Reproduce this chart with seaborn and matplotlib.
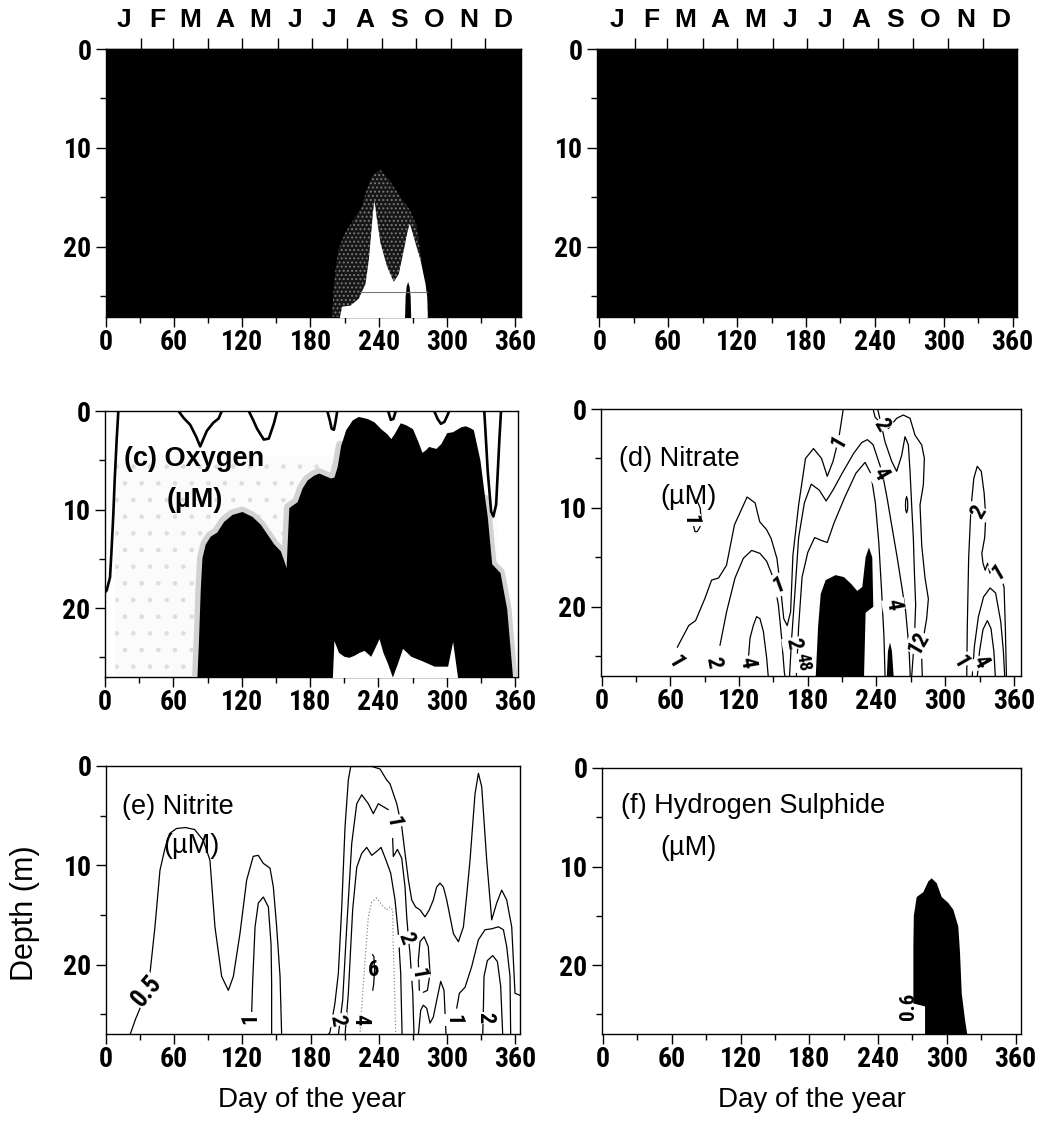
import numpy as np
import matplotlib
matplotlib.use("Agg")
import matplotlib.pyplot as plt
from matplotlib import font_manager
from matplotlib.font_manager import FontProperties
import seaborn as sns

# ---------------------------------------------------------------- data
month_letters = ["J", "F", "M", "A", "M", "J", "J", "A", "S", "O", "N", "D"]
month_mid_days = [15.5, 45, 74.5, 105, 135.5, 166, 196.5, 227.5, 258, 288.5, 319, 349.5]
month_start_days = [31, 59, 90, 120, 151, 181, 212, 243, 273, 304, 334]
day_ticks = [0, 60, 120, 180, 240, 300, 360]
day_minor_ticks = [30, 90, 150, 210, 270, 330]
depth_ticks = [0, 10, 20]
depth_minor_ticks = [5, 15, 25]

# (a) -- low-value pocket inside black field
a_halo_day = [198.7, 200.1, 201.6, 204.5, 210.4, 217.7, 225.1, 229.5, 233.9, 241.2, 248.5,
              258.8, 267.6, 273.5, 276.4, 279.3, 282.3, 283.7]
a_halo_top = [27.1, 24.7, 22.7, 20.3, 18.6, 17.3, 15.9, 14.2, 12.9, 12.2, 13.1,
              14.9, 16.3, 17.9, 20.3, 22.7, 25.0, 27.1]
a_white_day = [205.4, 207.5, 214.8, 222.1, 228.0, 230.9, 233.0, 234.7, 235.9, 237.7, 241.2,
               247.1, 252.9, 257.3, 261.7, 265.2, 267.0, 270.5, 276.4, 280.8, 282.3, 282.8]
a_white_top = [27.1, 26.0, 25.9, 25.2, 23.7, 21.3, 18.6, 16.3, 15.3, 16.9, 19.6,
               22.0, 23.5, 22.7, 20.3, 18.3, 17.6, 19.0, 21.3, 23.7, 25.0, 27.1]
a_core_day = [262.8, 263.3, 264.2, 265.5, 266.8, 267.7, 268.2]
a_core_top = [27.1, 25.0, 24.0, 23.5, 24.0, 25.0, 27.1]
a_rule_day = [223.5, 282.8]
a_rule_depth = [24.6, 24.6]

# (c) Oxygen
c_black_day = [80.7, 82.2, 83.6, 85.1, 88.0, 92.4, 98, 104.2, 111.5, 120.3, 129.1, 136.4, 142.3,
               148.2, 154.0, 157.0, 159.0, 160.5, 161.4, 168.7, 173.1, 177.5, 183.4, 187.8, 193.7,
               198.1, 201.0, 203.9, 206.9, 211.3, 217.1, 222.4, 230.4, 236.2, 242.1, 247.4, 250.9,
               253.9, 259.2, 264.1, 270.0, 274.4, 278.3, 281.7, 284.1, 290.5, 294.9, 300.0, 305.2,
               312.5, 316.4, 320.5, 323.4, 329.2, 333.6, 335.6, 339.5, 346.8, 352.7, 357.9]
c_black_top = [27.1, 22.9, 18.2, 14.9, 13.5, 12.7, 12.3, 11.2, 10.5, 10.2, 10.7, 11.5, 12.5,
               13.5, 14.2, 15.2, 15.9, 12.0, 9.8, 9.2, 7.8, 7.0, 6.5, 6.3, 6.6,
               6.8, 6.7, 5.6, 3.5, 1.9, 0.9, 0.55, 0.77, 1.1, 1.8, 2.3, 2.8,
               2.3, 1.2, 1.4, 1.8, 3.0, 4.2, 3.9, 3.6, 3.8, 3.3, 2.2, 2.1,
               1.6, 1.5, 1.7, 1.9, 5.0, 9.0, 10.7, 15.5, 16.4, 20.1, 27.1]
c_notch_day = [199.6, 201.0, 205, 209.8, 214, 218.6, 223, 227.4, 233.3, 237, 240.6, 244, 248.0,
               252.3, 256.8, 261.2, 265, 268.5, 277.3, 289.0, 300.8, 305.2, 309.6]
c_notch_top = [27.1, 23.3, 24.5, 24.9, 25.0, 24.8, 24.5, 24.3, 24.9, 24.0, 23.1, 24.5, 25.6,
               27.0, 25.6, 24.1, 24.5, 24.9, 25.3, 25.9, 25.9, 23.4, 27.1]
c_haze_day = [9, 60, 150, 250, 345]
c_haze_top = [5.0, 4.5, 4.5, 4.5, 9.0]
c_line1_day = [11.7, 10.3, 8.5, 7.3, 5.8, 4.4, 1.5, 0.0]
c_line1_depth = [0, 2.8, 7.0, 10.5, 14.0, 16.9, 18.2, 18.4]
c_line2_day = [64.5, 69, 74.8, 80, 83.6, 86.5, 89.5, 95, 99.7, 102.6]
c_line2_depth = [0, 0.7, 1.4, 2.6, 3.6, 2.8, 2.0, 1.2, 0.77, 0]
c_line3_day = [126.2, 130, 133.5, 139.4, 143.8, 148.2, 151.1]
c_line3_depth = [0, 0.9, 1.8, 2.9, 2.8, 1.3, 0]
c_line4_day = [195.2, 197.5, 199.0, 201.0, 202.4, 203.9]
c_line4_depth = [0, 1.0, 1.8, 1.9, 1.1, 0]
c_line5_day = [248.6, 250.9, 253.2, 255.3]
c_line5_depth = [0, 0.9, 0.8, 0]
c_line6_day = [289.0, 292, 294.9, 298, 300.8, 302.2]
c_line6_depth = [0, 0.8, 1.3, 1.1, 0.4, 0]
c_line7_day = [333.0, 334.5, 336.0, 339.0, 341.0, 343.4, 346.3, 347.7]
c_line7_depth = [0, 3.0, 6.1, 10.2, 10.7, 9.5, 2.8, 0]

# (d) Nitrate
d_black_day = [186.9, 189.0, 191.3, 195.6, 204.3, 211.6, 218, 223.2, 227.6, 230.5, 233.4, 236.3,
               237.2, 230.5, 229.1]
d_black_depth = [27.1, 22.0, 18.7, 17.3, 16.8, 17.0, 17.7, 18.4, 18.0, 15.0, 14.0, 15.0,
                 20.0, 20.6, 27.1]
d_spike_day = [249.0, 250.0, 251.8, 253.5, 255.0]
d_spike_depth = [27.1, 24.5, 23.6, 24.5, 27.1]
d_lev1_day = [66, 76, 82, 90, 96, 102, 109, 116, 127, 134, 138, 144, 148, 153, 156, 159, 162,
              165, 167, 172, 178, 185, 192, 197, 202, 207, 211]
d_lev1_depth = [24.1, 21.9, 21.4, 19.2, 17.3, 17.1, 15.8, 11.7, 8.9, 9.5, 11.4, 12.2, 13.1, 15.1,
                17.8, 21.2, 21.9, 20.5, 14.8, 9.7, 5.0, 4.0, 5.0, 6.8, 5.3, 3.0, 0.0]
d_lev2_day = [103.3, 109.1, 116.4, 123.7, 131, 138.2, 144.1, 149.9, 154.3, 157.2, 159.5, 160.2]
d_lev2_depth = [23.9, 20.5, 17.1, 15.1, 14.3, 14.6, 15.4, 17.1, 19.8, 23.2, 26.6, 27.1]
d_lev4_day = [128.3, 129.5, 132.4, 135.3, 138.2, 141.2, 144.1, 145.5]
d_lev4_depth = [25.0, 23.2, 21.9, 21.0, 21.2, 22.5, 25.2, 27.1]
d_mid2_day = [164, 165.9, 168.8, 172, 177, 183, 190, 196, 202, 210, 220, 227, 232, 237, 241,
              245, 249.4, 252.3, 258.2, 265.5, 268.4, 269.5]
d_mid2_depth = [27.1, 23.2, 18.5, 13, 9.5, 7.6, 8.2, 9.3, 8.2, 6.5, 4.5, 3.4, 3.1, 3.6, 5.0,
                6.4, 9.1, 11.1, 15.1, 20.5, 24.2, 27.1]
d_mid4_day = [170, 172, 175, 180, 186, 192, 197, 203, 212, 222, 230, 235, 239, 242, 244.5, 246.5, 247.5]
d_mid4_depth = [27.1, 22, 17, 14.5, 13.0, 13.3, 13.5, 11.5, 9.0, 6.5, 5.4, 6.5, 9.5, 13.5, 18.5, 23.0, 27.1]
d_r1_day = [237.0, 238.7, 244, 250.4, 257.6, 263.4, 269.3, 273.6, 279.5, 281.8, 280.9, 278.0,
            279.5, 282.4, 285.3, 283.8, 280.9, 279.5, 280.0]
d_r1_depth = [0.0, 0.8, 1.5, 1.96, 0.94, 0.61, 0.94, 2.63, 3.64, 4.99, 7.69, 9.7,
              13.8, 17.1, 19.2, 21.2, 23.2, 25.2, 27.1]
d_r2_day = [241, 244, 247.4, 253.3, 257.6, 262, 264.9, 267.8, 269.3, 270.7, 272.2, 273.1, 274.2,
            273.1, 270.7]
d_r2_depth = [0, 1.5, 3.3, 5.3, 6.3, 4.7, 2.8, 3.6, 6.3, 9.7, 13.1, 16.5, 19.8, 23.2, 27.1]
d_ring_day = [266.3, 267.1, 267.3, 267.1, 266.3, 265.5, 265.3, 265.5, 266.3]
d_ring_depth = [8.9, 9.2, 9.7, 10.2, 10.5, 10.2, 9.7, 9.2, 8.9]
d_hook_day = [83.0, 86.0, 86.7, 85.9, 83.5, 81.5, 80.0]
d_hook_depth = [9.2, 10.0, 10.9, 11.9, 12.4, 12.4, 11.7]
d_east1_day = [318.8, 319.3, 320.5, 322.5, 325, 328, 331.5, 334, 335.4, 334.5, 332, 333, 334.9,
               337, 339, 340.7, 343]
d_east1_depth = [27.1, 22, 15, 10, 7, 5.8, 6.3, 8.5, 10.9, 13, 14.6, 15.6, 16.3, 15.6, 16.6,
                 16.0, 16.6]
d_east1b_day = [348.5, 351.4, 352.5, 353.5]
d_east1b_depth = [17.0, 18.0, 22.0, 27.1]
d_east2_day = [323.6, 325.5, 329, 333.5, 339.2, 344, 348.5, 350.8, 352]
d_east2_depth = [27.1, 24, 21, 19, 18.1, 18.6, 21.5, 24.5, 27.1]
d_east4_day = [328, 330, 333, 336.8, 340, 342.5, 343.8]
d_east4_depth = [27.1, 24.5, 22.3, 21.4, 22.2, 24.5, 27.1]

# (e) Nitrite
e_a05_day = [21.1, 26, 32.9, 38.7, 43.1, 47.5, 51.9, 56, 62, 70, 78, 85.7, 91.5, 95.9, 101.8,
             107.7, 112.1, 117.9, 123.8, 129.6, 134, 138.4, 144.4, 147.3, 150.2, 153.2, 154.6]
e_a05_depth = [27.1, 25.5, 23.6, 20.9, 16.2, 10.5, 8.3, 6.8, 6.3, 6.2, 6.4, 7.5, 9.5, 16.2, 21.2,
               22.6, 21.2, 16.9, 11.5, 9.1, 9.0, 9.8, 10.3, 12.2, 16.2, 21.2, 27.1]
e_a1_day = [128.2, 129, 131.2, 134.1, 138.5, 142.9, 145.3, 145.8, 145.8]
e_a1_depth = [25.0, 22, 16.2, 13.8, 13.2, 14.2, 18, 22, 27.1]
e_b05_day = [195.5, 197.2, 201.5, 204.5, 207.4, 210.4, 213.3, 215.4, 225, 234, 241.2, 247, 250,
             255.9, 260.3, 263.2, 266.2, 269.1, 272.5, 276.4, 280.8, 284.5, 288.1, 291, 294, 297,
             299.9, 305.8, 310.2, 314.6, 317.5, 320.4, 324.8, 327.8, 330.7, 335.1, 339.5, 343.9,
             348.3, 352.7, 357.1, 360, 364.4]
e_b05_depth = [27.1, 26.8, 23.9, 20.9, 14.5, 6.1, 1.4, 0.05, 0.05, 0.05, 0.3, 1.4, 1.8,
               3.8, 6.1, 8.8, 11.5, 13.5, 14.2, 14.5, 15.2, 14.5, 13.5, 12.2, 11.8, 12.2,
               13.5, 16.9, 17.7, 16.2, 13.0, 9.5, 2.8, 0.74, 2.1, 9.5, 15.5, 13.8,
               12.5, 13.5, 16.2, 22.9, 23.1]
e_b1_day = [204.5, 208.3, 211.9, 216.3, 220.7, 225.1, 230.9, 235.3, 239.7, 244.1, 248.5]
e_b1_depth = [27.1, 23.6, 16.2, 7.8, 3.8, 2.9, 3.8, 4.8, 3.8, 4.1, 4.4]
e_b2_day = [210.4, 213.3, 217.1, 220.7, 225.1, 229.5, 233.9, 238.3, 242.1, 246.5, 250.6, 254.4,
            257.3, 259.4, 260.6]
e_b2_depth = [27.1, 22.9, 14.5, 10.2, 8.8, 8.2, 9.0, 8.6, 8.2, 9.5, 10.8, 13.5, 16.9, 20.9, 27.1]
e_b2b_day = [252.3, 252.9, 253.5, 256.5, 260.3, 263.2, 264.7, 266.1, 267.6, 270.0, 271.1]
e_b2b_depth = [7.3, 9.1, 9.0, 8.4, 9.3, 12.2, 15.2, 17.2, 18.9, 22.9, 27.1]
e_b4_day = [223.6, 225.1, 228.0, 230.9, 233.9, 238.3, 242.7, 247.1, 250.0, 252.3, 252.9, 254.1, 255.0]
e_b4_depth = [27.1, 24.3, 19.6, 15.2, 13.7, 13.3, 14.0, 14.5, 14.2, 14.5, 18.2, 22.9, 27.1]
e_b6_day = [234.5, 235.8, 236.4, 235.6, 234.8]
e_b6_depth = [19.0, 19.2, 20.5, 22.0, 22.6]
e_loop_day = [275.8, 274.9, 276.4, 280.0, 283.7, 285.2, 282.9, 279.3]
e_loop_depth = [22.6, 19.6, 17.7, 17.2, 18.2, 20.9, 22.6, 22.8]
e_wig_day = [274.9, 277.0, 279.3, 282.3, 285.2, 288.1, 291.1, 294.6, 297.5, 299.3]
e_wig_depth = [27.1, 24.6, 24.1, 24.4, 25.9, 25.3, 23.6, 21.7, 22.6, 27.1]
e_c1_day = [308.7, 311.0, 316.0, 321.9, 327.8, 333.6, 339.5, 345.4, 349.8, 352.7, 355.6, 356.2]
e_c1_depth = [24.4, 22.9, 22.3, 20.2, 17.5, 16.5, 16.4, 16.2, 16.5, 18.2, 21.2, 27.1]
e_c2_day = [331.6, 332.2, 332.7, 335.7, 340.4, 344.5, 347.4, 349.2]
e_c2_depth = [27.1, 24.3, 21.2, 19.6, 19.1, 19.7, 22.2, 27.1]

# (f) Hydrogen sulphide
f_black_day = [281.0, 281.0, 270.8, 270.8, 271.2, 273.7, 279.5, 283.9, 286.8, 291.2, 295.5,
               301.3, 305.7, 310.0, 311.5, 313.0, 315.9, 317.9]
f_black_depth = [27.1, 24.2, 23.9, 18.0, 15.0, 13.1, 12.6, 11.5, 11.2, 11.7, 13.1,
                 13.7, 14.4, 16.1, 18.8, 22.9, 25.6, 27.1]

# ---------------------------------------------------------------- style
sns.set_theme(style="ticks")
plt.rcParams["font.family"] = ["Liberation Sans", "DejaVu Sans"]
plt.rcParams["text.color"] = "black"
plt.rcParams["axes.labelcolor"] = "black"
plt.rcParams["hatch.linewidth"] = 0.9

# a narrow face for tick numbers if one is installed
narrow_file = None
for key in ["LiberationSansNarrow-Bold", "LiberationSansNarrow-Regular", "RobotoCondensed-Bold",
            "RobotoCondensed-Regular"]:
    for fe in font_manager.fontManager.ttflist:
        if key.lower() in fe.fname.replace(" ", "").lower():
            narrow_file = fe.fname
            break
    if narrow_file:
        break


def tick_font(size_narrow, size_plain):
    if narrow_file:
        return FontProperties(fname=narrow_file, size=size_narrow)
    return FontProperties(family=["Liberation Sans", "DejaVu Sans"], weight="bold", size=size_plain)


W, H = 1048, 1124
fig = plt.figure(figsize=(W / 100, H / 100), dpi=100)
fig.patch.set_facecolor("white")


def rect(l, t, r, b):
    return [l / W, 1 - b / H, (r - l) / W, (b - t) / H]


def line(ax, days, depths, lw=0.9, color="black", ls="-"):
    sns.lineplot(x=np.asarray(days, float), y=np.asarray(depths, float), sort=False,
                 estimator=None, ax=ax, color=color, lw=lw, linestyle=ls, legend=False,
                 solid_joinstyle="round", zorder=4)


def clab(ax, txt, day, depth, rot=0, size=15, box=True):
    kw = dict(rotation=rot, ha="center", va="center", zorder=6,
              fontproperties=tick_font(size + 1, size))
    if box:
        kw["bbox"] = dict(boxstyle="square,pad=0.02", fc="white", ec="none")
    ax.text(day, depth, txt, **kw)


def style(ax, xlim, ybot=27.0, months=False):
    ax.set_xlim(*xlim)
    ax.set_ylim(ybot, 0)
    ax.set_xticks(day_ticks)
    ax.set_xticks(day_minor_ticks, minor=True)
    ax.set_yticks(depth_ticks)
    ax.set_yticks(depth_minor_ticks, minor=True)
    ax.set_xlabel("")
    ax.set_ylabel("")
    ax.tick_params(axis="x", which="major", direction="out", length=7, width=1, pad=1.5,
                   color="black", labelcolor="black")
    ax.tick_params(axis="x", which="minor", direction="out", length=4.5, width=1, color="black")
    ax.tick_params(axis="y", which="major", direction="out", length=7, width=1, pad=3.5,
                   color="black", labelcolor="black")
    ax.tick_params(axis="y", which="minor", direction="out", length=4, width=1, color="black")
    for lab in ax.get_xticklabels() + ax.get_yticklabels():
        lab.set_fontproperties(tick_font(20, 17.5))
    for sp in ax.spines.values():
        sp.set_visible(True)
        sp.set_color("black")
        sp.set_linewidth(1.0)
    if months:
        sec = ax.secondary_xaxis("top")
        sec.set_xticks(month_start_days, labels=[""] * len(month_start_days))
        sec.set_xticks(month_mid_days, labels=month_letters, minor=True)
        sec.tick_params(which="major", direction="out", length=8, width=1, color="black")
        sec.tick_params(which="minor", length=0, pad=12, labelsize=19, labelcolor="black")
        for lab in sec.get_xticklabels(minor=True):
            lab.set_fontweight("bold")
        sec.spines["top"].set_linewidth(1.0)


def panel_title(ax, line1, day1, dep1, day2, dep2, bold=False):
    w = "bold" if bold else "normal"
    ax.text(day1, dep1, line1, fontsize=19.5, fontweight=w, va="baseline", ha="left", zorder=7,
            color="black")
    ax.text(day2, dep2, "(\u00b5M)", fontsize=19.5, fontweight=w, va="baseline", ha="left",
            zorder=7, color="black")


ax_a = fig.add_axes(rect(106, 49, 521, 317))
ax_b = fig.add_axes(rect(597, 49, 1017, 317))
ax_c = fig.add_axes(rect(105, 411, 518, 677))
ax_d = fig.add_axes(rect(601, 409, 1021, 676))
ax_e = fig.add_axes(rect(106, 766, 520, 1034))
ax_f = fig.add_axes(rect(602, 768, 1021, 1034))

# ---------------- (a)
ax_a.set_facecolor("black")
ax_a.fill_between(a_halo_day, a_halo_top, 27.2, facecolor="#161616", edgecolor="#7a7a7a",
                  hatch="....", linewidth=0, zorder=2)
ax_a.fill_between(a_white_day, a_white_top, 27.2, color="white", linewidth=0, zorder=3)
ax_a.fill_between(a_core_day, a_core_top, 27.2, color="black", linewidth=0, zorder=4)
line(ax_a, a_rule_day, a_rule_depth, lw=0.8, color="#777777")
style(ax_a, (0, 365.3), ybot=27.1, months=True)

# ---------------- (b)
ax_b.set_facecolor("black")
style(ax_b, (-2, 363.8), ybot=27.1, months=True)

# ---------------- (c)
ax_c.fill_between(c_haze_day, c_haze_top, 27.2, facecolor="#fbfbfb", edgecolor="#dedede",
                  hatch=".", linewidth=0, zorder=1)
cb_day = np.asarray(c_black_day)
cb_top = np.asarray(c_black_top)
left = cb_day <= 207
right = cb_day >= 330
line(ax_c, cb_day[left], cb_top[left], lw=7, color="#d2d2d2")
line(ax_c, cb_day[right], cb_top[right], lw=7, color="#d2d2d2")
ax_c.fill_between(c_black_day, c_black_top, 27.2, color="black", linewidth=0, zorder=4.5)
ax_c.fill_between(c_notch_day, c_notch_top, 27.2, color="white", linewidth=0, zorder=4.6)
for dd, zz in [(c_line1_day, c_line1_depth), (c_line2_day, c_line2_depth),
               (c_line3_day, c_line3_depth), (c_line4_day, c_line4_depth),
               (c_line5_day, c_line5_depth), (c_line6_day, c_line6_depth),
               (c_line7_day, c_line7_depth)]:
    line(ax_c, dd, zz, lw=1.9)
panel_title(ax_c, "(c) Oxygen", 16.7, 5.6, 54, 9.7, bold=True)
style(ax_c, (0, 362.6))

# ---------------- (d)
ax_d.fill(d_black_day, d_black_depth, color="black", linewidth=0, zorder=3)
ax_d.fill(d_spike_day, d_spike_depth, color="black", linewidth=0, zorder=3)
for dd, zz in [(d_lev1_day, d_lev1_depth), (d_lev2_day, d_lev2_depth), (d_lev4_day, d_lev4_depth),
               (d_mid2_day, d_mid2_depth), (d_mid4_day, d_mid4_depth), (d_r1_day, d_r1_depth),
               (d_r2_day, d_r2_depth), (d_ring_day, d_ring_depth), (d_hook_day, d_hook_depth),
               (d_east1_day, d_east1_depth), (d_east1b_day, d_east1b_depth),
               (d_east2_day, d_east2_depth), (d_east4_day, d_east4_depth)]:
    line(ax_d, dd, zz, lw=0.9)
clab(ax_d, "1", 64, 25.6, rot=-60)
clab(ax_d, "2", 97.5, 25.6, rot=-80)
clab(ax_d, "4", 126.6, 25.6, rot=-80)
clab(ax_d, "1", 154.3, 17.8, rot=20)
clab(ax_d, "2", 167.4, 23.7, rot=-80)
clab(ax_d, "48", 176, 25.6, rot=-80, size=12)
clab(ax_d, "1", 206.7, 3.3, rot=60)
clab(ax_d, "2", 244.5, 1.6, rot=-60)
clab(ax_d, "4", 243.5, 6.6, rot=-60)
clab(ax_d, "4", 254.7, 19.8, rot=-80)
clab(ax_d, "12", 276.5, 23.7, rot=60)
clab(ax_d, "2", 329, 10.4, rot=60)
clab(ax_d, "1", 346.4, 16.6, rot=30)
clab(ax_d, "1", 77.1, 11.2, rot=-90)
clab(ax_d, "1", 313.3, 25.6, rot=-60)
clab(ax_d, "4", 330.8, 25.6, rot=-60)
panel_title(ax_d, "(d) Nitrate", 15.1, 5.8, 51.5, 9.6)
style(ax_d, (-0.6, 366.2))

# ---------------- (e)
for dd, zz in [(e_a05_day, e_a05_depth), (e_a1_day, e_a1_depth), (e_b05_day, e_b05_depth),
               (e_b1_day, e_b1_depth), (e_b2_day, e_b2_depth), (e_b2b_day, e_b2b_depth),
               (e_loop_day, e_loop_depth), (e_wig_day, e_wig_depth), (e_c1_day, e_c1_depth),
               (e_c2_day, e_c2_depth)]:
    line(ax_e, dd, zz, lw=0.9)
line(ax_e, e_b4_day, e_b4_depth, lw=0.9, color="#8c8c8c", ls=":")
line(ax_e, e_b6_day, e_b6_depth, lw=0.9, color="black")
clab(ax_e, "0.5", 35.8, 22.7, rot=50, size=17)
clab(ax_e, "1", 126.8, 25.4, rot=90)
clab(ax_e, "2", 203.1, 25.6, rot=-80)
clab(ax_e, "4", 223.6, 25.6, rot=-90)
clab(ax_e, "1", 252.9, 5.6, rot=-80)
clab(ax_e, "2", 263.6, 17.4, rot=-70)
clab(ax_e, "6", 235.3, 20.6, rot=0, box=False)
clab(ax_e, "1", 275.0, 20.9, rot=-80)
clab(ax_e, "1", 305.8, 25.6, rot=-90)
clab(ax_e, "2", 333.6, 25.4, rot=-90)
panel_title(ax_e, "(e) Nitrite", 13.8, 4.8, 50.5, 8.8)
style(ax_e, (0, 364.4))

# ---------------- (f)
ax_f.fill(f_black_day, f_black_depth, color="black", linewidth=0, zorder=3)
clab(ax_f, "0.6", 266.4, 24.2, rot=90, size=14, box=False)
panel_title(ax_f, "(f) Hydrogen Sulphide", 15.4, 4.6, 50.3, 8.8)
style(ax_f, (-0.9, 364.7))

# ---------------- shared labels
fig.text(25 / W, 1 - 913 / H, "Depth (m)", rotation=90, ha="center", va="center", fontsize=22,
         color="black")
fig.text(311.7 / W, 1 - 1100 / H, "Day of the year", ha="center", va="center", fontsize=20,
         color="black")
fig.text(811.5 / W, 1 - 1100 / H, "Day of the year", ha="center", va="center", fontsize=20,
         color="black")

fig.savefig("out.png", dpi=100, facecolor="white")
